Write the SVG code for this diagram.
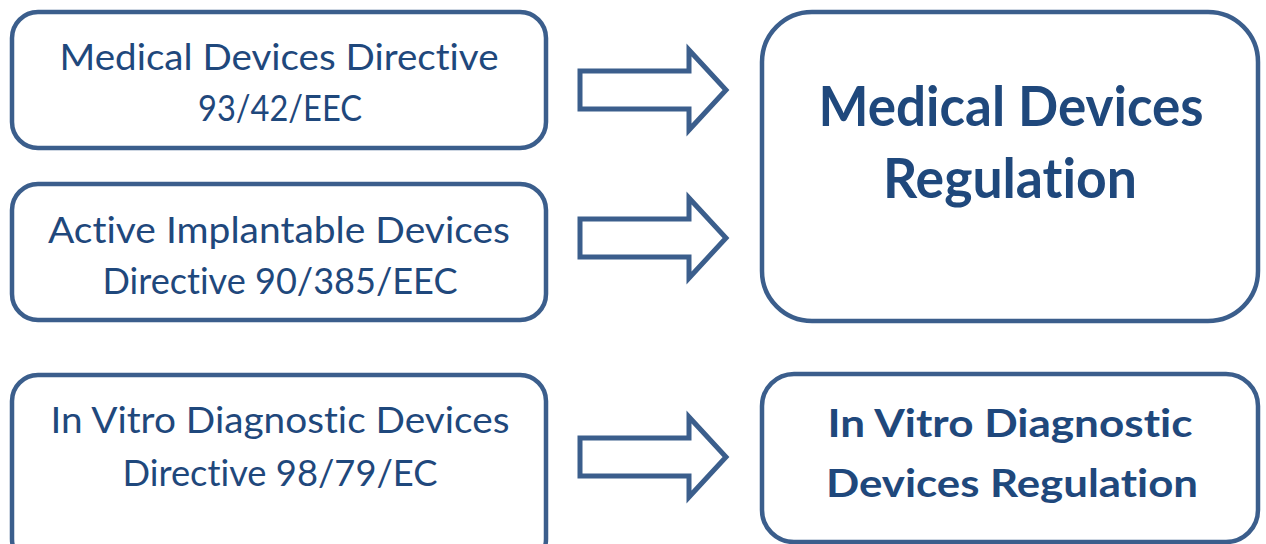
<svg xmlns="http://www.w3.org/2000/svg" width="1266" height="544" viewBox="0 0 1266 544">
<style>
.box{fill:#fff;stroke:#3B5E8C;stroke-width:4.5}
.arrow{fill:#fff;stroke:#3B5E8C;stroke-width:5;stroke-linejoin:miter}
.t{font-family:Lato,"Open Sans","Liberation Sans",sans-serif;fill:#1F487C;text-anchor:middle;font-variant-ligatures:none;font-feature-settings:"liga" 0,"clig" 0}
.n{font-size:36px}
.b1{font-size:55px;font-weight:bold}
.b2{font-size:39px;font-weight:bold}
</style>
<rect width="1266" height="544" fill="#fff"/>
<g id="mdd">
<rect class="box" x="12" y="12" width="534" height="136" rx="26"/>
<text class="t n" x="279" y="70" textLength="439" lengthAdjust="spacingAndGlyphs">Medical Devices Directive</text>
<text class="t n" x="280" y="121" textLength="164" lengthAdjust="spacingAndGlyphs">93/42/EEC</text>
</g>
<g id="aimdd">
<rect class="box" x="12" y="184" width="534" height="136" rx="26"/>
<text class="t n" x="279" y="243" textLength="462" lengthAdjust="spacingAndGlyphs">Active Implantable Devices</text>
<text class="t n" x="280" y="294" textLength="355" lengthAdjust="spacingAndGlyphs">Directive 90/385/EEC</text>
</g>
<g id="ivdd">
<rect class="box" x="12" y="375" width="534" height="190" rx="26"/>
<text class="t n" x="280" y="433" textLength="459" lengthAdjust="spacingAndGlyphs">In Vitro Diagnostic Devices</text>
<text class="t n" x="280" y="486" textLength="315" lengthAdjust="spacingAndGlyphs">Directive 98/79/EC</text>
</g>
<g id="mdr">
<rect class="box" x="762" y="12" width="496" height="309" rx="50"/>
<text class="t b1" x="1011" y="126" textLength="385" lengthAdjust="spacingAndGlyphs">Medical Devices</text>
<text class="t b1" x="1010" y="198" textLength="254" lengthAdjust="spacingAndGlyphs">Regulation</text>
</g>
<g id="ivdr">
<rect class="box" x="762" y="374" width="496" height="168" rx="32"/>
<text class="t b2" x="1010" y="437" textLength="365" lengthAdjust="spacingAndGlyphs">In Vitro Diagnostic</text>
<text class="t b2" x="1012" y="497" textLength="372" lengthAdjust="spacingAndGlyphs">Devices Regulation</text>
</g>
<g id="connectors">
<polygon class="arrow" points="580,71 689,71 689,50 726,90 689,130 689,109 580,109"/>
<polygon class="arrow" points="580,219 689,219 689,198 726,238 689,278 689,257 580,257"/>
<polygon class="arrow" points="580,438 689,438 689,417 726,457 689,497 689,476 580,476"/>
</g>
</svg>
